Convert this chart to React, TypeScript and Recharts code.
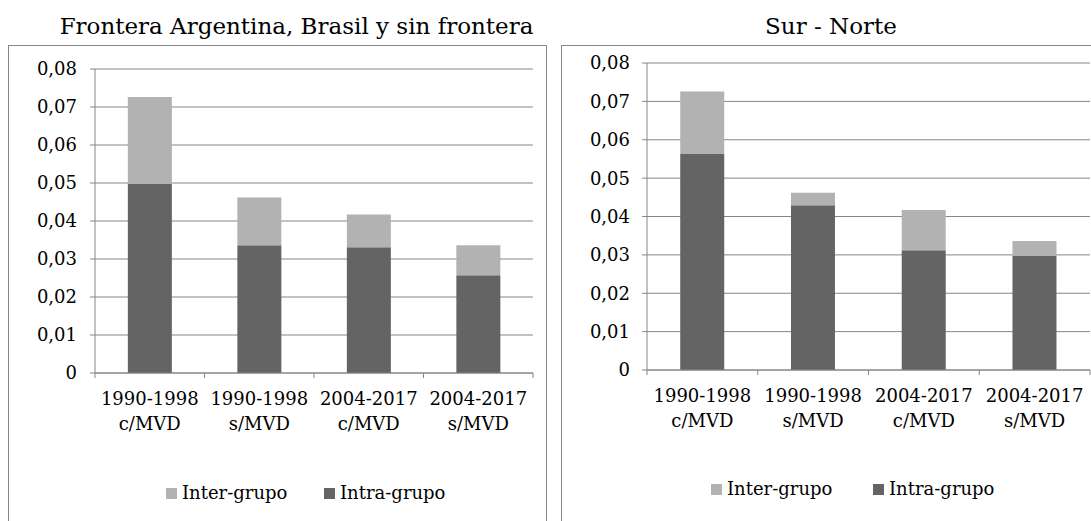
import React from 'react';
import { BarChart, Bar, XAxis, YAxis, CartesianGrid } from 'recharts';

const categories = ['1990-1998 c/MVD', '1990-1998 s/MVD', '2004-2017 c/MVD', '2004-2017 s/MVD'];
const panelTitles = ['Frontera Argentina, Brasil y sin frontera', 'Sur - Norte'];
const seriesNames = ['Inter-grupo', 'Intra-grupo'];
const seriesColors = ['#b2b2b2', '#646464'];
const yTicks = [0, 0.01, 0.02, 0.03, 0.04, 0.05, 0.06, 0.07, 0.08];

const fronteraIntra = [0.0498, 0.0336, 0.0331, 0.0257];
const fronteraInter = [0.0228, 0.0126, 0.0086, 0.0079];
const surNorteIntra = [0.0563, 0.0429, 0.0312, 0.0298];
const surNorteInter = [0.0163, 0.0033, 0.0105, 0.0038];

const FONT = "'DejaVu Serif', serif";
const AXIS = '#868686';
const Y_AXIS_WIDTH = 60;

const buildRows = (intra: number[], inter: number[]) =>
  categories.map((c, i) => ({ cat: c, intra: intra[i], inter: inter[i] }));

const fmt = (v: number) => (v === 0 ? '0' : v.toFixed(2).replace('.', ','));

const makeCatTick = (step: number) => (props: any) => {
  const { x, y, payload, index } = props;
  const [a, b] = String(payload.value).split(' ');
  const left = x - step / 2;
  const right = x + step / 2;
  return (
    <g>
      <line x1={left} x2={left} y1={y} y2={y + 5} stroke={AXIS} strokeWidth={1} />
      {index === categories.length - 1 && (
        <line x1={right} x2={right} y1={y} y2={y + 5} stroke={AXIS} strokeWidth={1} />
      )}
      <text textAnchor="middle" fontFamily={FONT} fontSize={18} fill="#000">
        <tspan x={x} y={y + 32.4}>{a}</tspan>
        <tspan x={x} y={y + 56.7}>{b}</tspan>
      </text>
    </g>
  );
};

type PanelProps = {
  title: string;
  intra: number[];
  inter: number[];
  chartLeft: number;
  chartWidth: number;
  margin: { top: number; right: number; bottom: number; left: number };
  titleCenter: number;
  boxLeft: number;
  boxWidth: number;
  legendXs: number[];
  legendTop: number;
  tickMargin: number;
};

const Panel = (p: PanelProps) => {
  const rows = buildRows(p.intra, p.inter);
  const step = (p.chartWidth - p.margin.left - p.margin.right - Y_AXIS_WIDTH) / categories.length;
  const CatTick = makeCatTick(step);
  return (
    <>
      <div
        style={{
          position: 'absolute', left: p.titleCenter - 300, width: 600, top: 15,
          textAlign: 'center', fontFamily: FONT, fontSize: 23, lineHeight: '23px', color: '#000',
          whiteSpace: 'nowrap',
        }}
      >
        {p.title}
      </div>
      <div
        style={{
          position: 'absolute', left: p.boxLeft, top: 45, width: p.boxWidth, height: 600,
          border: `1px solid ${AXIS}`, boxSizing: 'border-box',
        }}
      />
      <div style={{ position: 'absolute', left: p.chartLeft, top: 0 }}>
        <BarChart width={p.chartWidth} height={521} data={rows} margin={p.margin} barCategoryGap="30%">
          <CartesianGrid vertical={false} stroke={AXIS} strokeWidth={1} />
          <XAxis
            dataKey="cat"
            interval={0}
            tickLine={false}
            tickSize={0}
            tickMargin={0}
            axisLine={{ stroke: AXIS }}
            tick={<CatTick />}
            height={60}
          />
          <YAxis
            domain={[0, 0.08]}
            ticks={yTicks}
            interval={0}
            width={Y_AXIS_WIDTH}
            tickFormatter={fmt}
            tickSize={5}
            tickMargin={p.tickMargin}
            axisLine={{ stroke: AXIS }}
            tickLine={{ stroke: AXIS }}
            tick={{ fontFamily: FONT, fontSize: 18, fill: '#000' }}
          />
          <Bar dataKey="intra" name={seriesNames[1]} stackId="s" fill={seriesColors[1]} isAnimationActive={false} />
          <Bar dataKey="inter" name={seriesNames[0]} stackId="s" fill={seriesColors[0]} isAnimationActive={false} />
        </BarChart>
      </div>
      {seriesNames.map((name, i) => (
        <React.Fragment key={name}>
          <div
            style={{
              position: 'absolute', left: p.legendXs[i], top: p.legendTop + 4, width: 11, height: 11,
              background: seriesColors[i],
            }}
          />
          <div
            style={{
              position: 'absolute', left: p.legendXs[i] + 16, top: p.legendTop, fontFamily: FONT,
              fontSize: 18, lineHeight: '18px', color: '#000', whiteSpace: 'nowrap',
            }}
          >
            {name}
          </div>
        </React.Fragment>
      ))}
    </>
  );
};

export default function App() {
  return (
    <div
      style={{
        position: 'absolute', left: 0, top: 0, width: 1091, height: 521, overflow: 'hidden',
        background: '#fff',
      }}
    >
      <Panel
        title={panelTitles[0]}
        intra={fronteraIntra}
        inter={fronteraInter}
        chartLeft={0}
        chartWidth={546}
        margin={{ top: 69, right: 13, bottom: 88, left: 35 }}
        titleCenter={296.5}
        boxLeft={8}
        boxWidth={539}
        legendXs={[166, 324]}
        legendTop={484}
        tickMargin={13}
      />
      <Panel
        title={panelTitles[1]}
        intra={surNorteIntra}
        inter={surNorteInter}
        chartLeft={550}
        chartWidth={541}
        margin={{ top: 63, right: 1, bottom: 91, left: 37 }}
        titleCenter={831}
        boxLeft={561}
        boxWidth={600}
        legendXs={[711, 873]}
        legendTop={480}
        tickMargin={12}
      />
    </div>
  );
}
